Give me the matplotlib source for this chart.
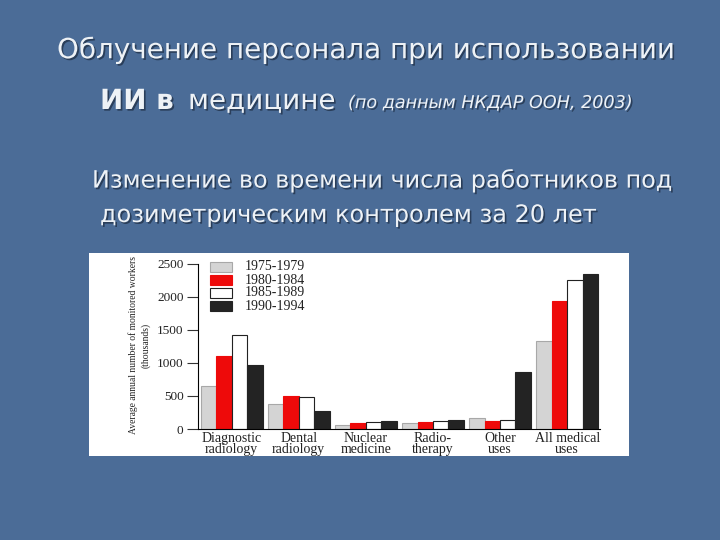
import matplotlib
matplotlib.use("Agg")
import matplotlib.pyplot as plt
import matplotlib.patheffects as pe
from matplotlib.patches import Rectangle
import numpy as np

categories = ["Diagnostic\nradiology", "Dental\nradiology", "Nuclear\nmedicine",
              "Radio-\ntherapy", "Other\nuses", "All medical\nuses"]
periods = ["1975-1979", "1980-1984", "1985-1989", "1990-1994"]
v_1975 = [650, 375, 65, 95, 170, 1335]
v_1980 = [1110, 505, 90, 110, 125, 1945]
v_1985 = [1430, 485, 105, 115, 140, 2260]
v_1990 = [970, 273, 125, 130, 870, 2345]
yticks = [0, 500, 1000, 1500, 2000, 2500]

W, H = 720, 540
bg = "#4b6c97"
fig = plt.figure(figsize=(7.2, 5.4), dpi=100, facecolor=bg)
renderer = fig.canvas.get_renderer()

shadow = [pe.withSimplePatchShadow(offset=(1.2, -1.2), shadow_rgbFace="#1c2b40", alpha=0.7)]
tc = "#eef2f6"
sans = "DejaVu Sans"


def fit_text(xl, xr, yc, s, size, **kw):
    t = fig.text(xl / W, 1 - yc / H, s, ha="left", va="center", fontsize=size, color=tc,
                 family=sans, path_effects=shadow, **kw)
    wpx = t.get_window_extent(renderer).width
    t.set_fontsize(size * (xr - xl) / wpx)
    return t


fit_text(57, 673, 50, "Облучение персонала при использовании", 20)
fig.text(100 / W, 1 - 101 / H, "ИИ в", ha="left", va="center", fontsize=20, color=tc,
         family=sans, weight="bold", path_effects=shadow)
fig.text(188 / W, 1 - 101 / H, "медицине", ha="left", va="center", fontsize=20, color=tc,
         family=sans, path_effects=shadow)
fit_text(348, 632, 103, "(по данным НКДАР ООН, 2003)", 12, style="italic")
fit_text(92, 672, 180, "Изменение во времени числа работников под", 18)
fit_text(100, 597, 215, "дозиметрическим контролем за 20 лет", 18)

# white picture panel
fig.patches.append(Rectangle((89 / W, 1 - 456 / H), (629 - 89) / W, (456 - 253) / H,
                             transform=fig.transFigure, facecolor="white", edgecolor="none", zorder=-5))

ax_l, ax_r, ax_b, ax_t = 197.5, 600, 429, 264
ax = fig.add_axes([ax_l / W, 1 - ax_b / H, (ax_r - ax_l) / W, (ax_b - ax_t) / H])
ax.set_zorder(2)
ax.set_facecolor("none")
serif = "Liberation Serif"
ink = "#222222"

x = np.arange(len(categories))
w = 0.23
series = [v_1975, v_1980, v_1985, v_1990]
faces = ["#d4d4d4", "#ee0a0a", "white", "#232323"]
edges = ["#a8a8a8", "#ee0a0a", "#222222", "#232323"]
for i, (vals, fc, ec) in enumerate(zip(series, faces, edges)):
    ax.bar(x + (i - 1.5) * w, vals, width=w, color=fc, edgecolor=ec, linewidth=0.8, label=periods[i])

ax.set_xlim(-0.51, 5.49)
ax.set_ylim(0, 2500)
ax.set_yticks(yticks)
ax.set_yticklabels([str(t) for t in yticks], family=serif, fontsize=9.5, color=ink)
ax.set_xticks(x)
ax.set_xticklabels(categories, family=serif, fontsize=10, color=ink, linespacing=0.8)
ax.tick_params(axis="x", length=0, pad=2)
ax.tick_params(axis="y", direction="out", length=8, width=0.8, pad=2, color="#333333")
for s in ["top", "right"]:
    ax.spines[s].set_visible(False)
ax.spines["left"].set_linewidth(0.8)
ax.spines["bottom"].set_linewidth(0.8)

fig.text(133 / W, 1 - 345 / H, "Average annual number of monitored workers", rotation=90,
         ha="center", va="center", family=serif, fontsize=6.9, color=ink)
fig.text(146 / W, 1 - 345 / H, "(thousands)", rotation=90,
         ha="center", va="center", family=serif, fontsize=6.9, color=ink)

# legend drawn in figure pixels
for i, (lab, fc, ec) in enumerate(zip(periods, faces, edges)):
    yc = 267 + 13 * i
    fig.patches.append(Rectangle((210 / W, 1 - (yc + 5) / H), 22 / W, 10 / H, transform=fig.transFigure,
                                 facecolor=fc, edgecolor=ec, linewidth=0.8, zorder=3))
    fig.text(245 / W, 1 - yc / H, lab, ha="left", va="center", family=serif, fontsize=10, color=ink)

fig.savefig("out.png", dpi=100, facecolor=bg)
